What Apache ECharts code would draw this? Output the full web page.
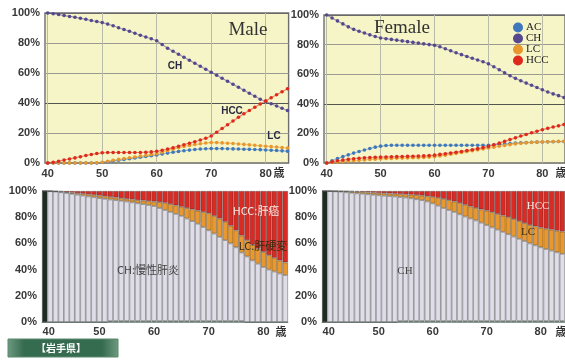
<!DOCTYPE html>
<html><head><meta charset="utf-8">
<script src="https://cdn.jsdelivr.net/npm/echarts@6/dist/echarts.min.js"></script>
<style>html,body{margin:0;padding:0;background:#fff}#c{width:565px;height:364px}</style>
</head><body><div id="c"></div>
<script>
// ---------- DATA ----------
const years = [40,41,42,43,44,45,46,47,48,49,50,51,52,53,54,55,56,57,58,59,60,61,62,63,64,65,66,67,68,69,70,71,72,73,74,75,76,77,78,79,80,81,82,83,84];
const xTickLabels = [40,50,60,70,80];
const yTickLabels = ['0%','20%','40%','60%','80%','100%'];
const legendNames = ['AC','CH','LC','HCC'];

// Top-left: Male, proportion by state (%)
const maleAC  = [0,0,0,0,0,0,0,0,0,0,0.3,0.8,1.3,1.8,2.3,2.8,3.3,3.8,4.3,4.8,5.3,6,6.6,7.2,7.7,8.2,8.6,9,9.3,9.5,9.6,9.6,9.6,9.5,9.4,9.3,9.2,9.1,9,8.9,8.7,8.5,8.3,8.1,7.9];
const maleCH  = [100,99.5,99,98.3,97.7,97.2,96.5,95.8,95,94.3,93.6,92.6,91.5,90.2,89,87.8,86.5,85.2,84,82.8,81.5,79,76.5,74.5,72.5,70.5,68.5,66.5,64.5,62.5,60.5,58.5,56.5,54.5,52.5,50.5,48.5,46.5,44.5,42.5,41,39.5,38,36.5,35];
const maleLC  = [0,0,0,0,0,0,0,0,0,0.2,0.5,1.2,1.8,2.4,3,3.5,4,4.6,5.1,5.6,6.2,7.2,8.2,9.2,10.1,11,11.7,12.3,12.8,13.3,13.7,13.6,13.4,13.2,13,12.7,12.4,12.1,11.8,11.5,11.2,10.9,10.6,10.3,10];
const maleHCC = [0,0.5,1.2,2,2.7,3.4,4.2,5,5.7,6.3,6.8,7,7,7,7,7,7,7,7.2,7.4,7.8,8.5,9.3,10.2,11.2,12.2,13.2,14.2,15.3,16.5,18,20.5,23,25.5,28,30.5,32.8,35,37.2,39.3,41.4,43.5,45.5,47.5,49.5];

// Top-right: Female
const femAC  = [0,1.5,3,4.3,5.5,6.7,7.8,8.8,9.8,10.7,11.4,11.8,12,12,12,12,12,12,12,12,12,12,12,12,12,12,12,12,12,12,12,12.2,12.5,12.8,13.1,13.4,13.6,13.8,14,14.1,14.2,14.3,14.4,14.5,14.5];
const femCH  = [100,98,96,94,92,90.3,89,87.8,86.6,85.5,84.5,84,83.5,83,82.5,82,81.5,81,80.5,80,79.5,78.5,77.2,75.8,74.5,73.2,72,70.8,69.6,68.4,67,65,63,61,59,57.2,55.6,54,52.5,51,49.5,48,46.7,45.5,44.3];
const femLC  = [0,0.3,0.6,0.9,1.2,1.5,1.8,2.1,2.4,2.6,2.8,3,3.1,3.2,3.3,3.4,3.5,3.6,3.8,4,4.3,4.8,5.3,5.9,6.5,7.1,7.7,8.3,8.9,9.5,10.1,10.7,11.3,11.9,12.4,12.9,13.3,13.6,13.9,14.1,14.3,14.4,14.5,14.6,14.7];
const femHCC = [0,0.8,1.5,2,2.5,2.9,3.2,3.5,3.7,3.9,4,4.1,4.2,4.3,4.4,4.5,4.6,4.7,4.8,5,5.3,5.8,6.3,6.8,7.3,7.8,8.4,9,9.7,10.4,11.2,12.3,13.4,14.6,15.8,17,18.2,19.3,20.4,21.5,22.5,23.4,24.3,25.1,26];

// Bottom-left: Male, stacked composition (%)
const maleStAC  = [0,0,0,0,0,0,0,0,0,0,0,0,0.8,0.8,0.8,0.8,0.8,0.8,0.8,0.8,0.8,0.8,0.8,0.8,0.8,0.8,0.8,0.8,0.8,0.8,0.8,0.8,0.8,0.8,0.8,0.8,0.8,0,0,0,0,0,0,0,0];
const maleStCH  = [100,99.8,99.5,99,98.5,97.8,97.2,96.5,95.8,95.2,94.5,94,92.7,92.2,91.7,91.2,90.5,89.8,89.2,88.5,87.7,86.2,84.7,83.2,81.7,80.2,78.2,76.2,74.2,71.7,69.2,66.7,64.2,61.7,59.2,56.2,52.2,50,47,44.5,42,40,38.5,37,35.8];
const maleStLC  = [0,0.2,0.3,0.5,0.5,0.9,1.1,1.4,1.7,1.8,2,2,2,2,2,2,2.2,2.4,2.7,3,3.5,4.5,5.5,6,6.5,7,8,9,10,11.5,13,13.5,14,14,13.5,13,13,12.5,12,11.5,11.5,11,10.5,10,9.7];
const maleStHCC = [0,0,0.2,0.5,1,1.3,1.7,2.1,2.5,3,3.5,4,4.5,5,5.5,6,6.5,7,7.3,7.7,8,8.5,9,10,11,12,13,14,15,16,17,19,21,23.5,26.5,30,34,37.5,41,44,46.5,49,51,53,54.5];

// Bottom-right: Female, stacked composition (%)
const femStAC  = [0,0,0,0,0,0,0,0,0,0,0,0,0,0,0.8,0.8,0.8,0.8,0.8,0.8,0.8,0.8,0.8,0.8,0.8,0.8,0.8,0.8,0.8,0.8,0.8,0.8,0.8,0.8,0.8,0.8,0.8,0.8,0.8,0.8,0.8,0.8,0.8,0.8,0.8];
const femStCH  = [100,99.9,99.7,99.4,99,98.6,98.2,97.9,97.5,97.1,96.7,96.4,96.1,95.8,94.6,94.2,93.6,92.9,92.2,91.2,89.7,88,86.2,84.7,83.2,81.4,79.7,78.2,76.7,75,73.2,71.4,69.7,68,66.2,64.4,62.7,61,59.2,57.7,56.2,54.9,53.7,52.4,51.2];
const femStLC  = [0,0.1,0.3,0.5,0.8,1,1.2,1.3,1.5,1.6,1.8,1.9,2,2.1,2.3,2.5,2.8,3.2,3.5,4,5,6,7,7.5,8,8.6,9,9.2,9.5,10.2,11,11.6,12,12.4,13,13.3,13.5,13.7,14,14.5,15,15.5,16,16.5,17];
const femStHCC = [0,0,0,0.1,0.2,0.4,0.6,0.8,1,1.3,1.5,1.7,1.9,2.1,2.3,2.5,2.8,3.1,3.5,4,4.5,5.2,6,7,8,9.2,10.5,11.8,13,14,15,16.2,17.5,18.8,20,21.5,23,24.5,26,27,28,28.8,29.5,30.3,31];

// ---------- STYLE ----------
const lineColors = {AC:'#3f78bd', CH:'#55488f', LC:'#e8972c', HCC:'#dd2a1c'};
const stColors = {AC:'#4c8b78', CH:'#dedde8', LC:'#e8982e', HCC:'#d92a24'};
const lblStyle = {color:'#383838', fontSize:11, fontWeight:'bold', fontFamily:'Liberation Sans, Arial, sans-serif'};

const chart = echarts.init(document.getElementById('c'), null, {renderer:'canvas'});

function topX(gi){
  return {type:'value', gridIndex:gi, min:39.5, max:84.2,
    axisLine:{show:false}, axisTick:{show:false, customValues:xTickLabels},
    axisLabel:Object.assign({customValues:xTickLabels, margin:5}, lblStyle),
    splitLine:{show:true, lineStyle:{color:'#b9bba6', width:1}}};
}
function topY(gi){
  return {type:'value', gridIndex:gi, min:0, max:100, interval:20,
    axisLine:{show:false}, axisTick:{show:false},
    axisLabel:Object.assign({formatter:(v)=>yTickLabels[v/20], margin:5}, lblStyle),
    splitLine:{show:true, lineStyle:{color:['#8c8c84','#9a9a90','#55554f','#9a9a90','#9a9a90','#6a6a6a'], width:1.2}}};
}
function botX(gi){
  return {type:'category', gridIndex:gi, data:years.map(String),
    axisLine:{show:true, lineStyle:{color:'#8fa39a', width:1}}, axisTick:{show:false},
    axisLabel:Object.assign({interval:(i,v)=>(+v)%10===0, margin:4,
      formatter:(v)=> v==='40' ? '{o|40}' : v,
      rich:{o:Object.assign({padding:[0,0,0,8]}, lblStyle)}}, lblStyle),
    splitLine:{show:false}};
}
function botY(gi){
  return {type:'value', gridIndex:gi, min:0, max:100, interval:20,
    axisLine:{show:false}, axisTick:{show:false},
    axisLabel:Object.assign({formatter:(v)=>yTickLabels[v/20], margin:5}, lblStyle),
    splitLine:{show:false}};
}

const series = [];
function addLines(gi, arrs){
  const order = ['AC','LC','CH','HCC'];
  order.forEach((n, k)=>{
    series.push({type:'line', name:n, xAxisIndex:gi, yAxisIndex:gi,
      data: years.map((y,i)=>[y, arrs[n][i]]),
      symbol:'circle', symbolSize:3.6, showSymbol:true,
      lineStyle:{color:lineColors[n], width:1.2, opacity:0.55},
      itemStyle:{color:lineColors[n]}, z:3+k, animation:false, silent:true});
  });
}
addLines(0, {AC:maleAC, CH:maleCH, LC:maleLC, HCC:maleHCC});
addLines(1, {AC:femAC, CH:femCH, LC:femLC, HCC:femHCC});

function addBars(gi, arrs, stack){
  ['AC','CH','LC','HCC'].forEach((n)=>{
    series.push({type:'bar', name:n, xAxisIndex:gi, yAxisIndex:gi, stack:stack,
      barCategoryGap:'0%',
      data: arrs[n].map((v,i)=> (i===0 && n==='CH') ? {value:v, itemStyle:{color:'#1f2c24'}} : v),
      itemStyle:{color:stColors[n], borderColor:'rgba(50,50,50,0.55)', borderWidth:0.7},
      animation:false, silent:true});
  });
}
addBars(2, {AC:maleStAC, CH:maleStCH, LC:maleStLC, HCC:maleStHCC}, 'm');
addBars(3, {AC:femStAC, CH:femStCH, LC:femStLC, HCC:femStHCC}, 'f');

const serif = 'Liberation Serif, DejaVu Serif, serif';
const sans = 'Liberation Sans, Arial, sans-serif';
function txt(x,y,t,o){
  return Object.assign({type:'text', x:x, y:y, z:50, silent:true,
    style:Object.assign({text:t, fill:'#333', font:'11px '+sans, textAlign:'center', textVerticalAlign:'middle'}, o||{})});
}

const option = {
  backgroundColor:'#ffffff',
  animation:false,
  grid:[
    {left:45, top:13, width:243.6, height:150, show:true, backgroundColor:'#f5f5c8', borderColor:'#6e6e6e', borderWidth:1.4},
    {left:324, top:15, width:243.6, height:148, show:true, backgroundColor:'#f5f5c8', borderColor:'#6e6e6e', borderWidth:1.4},
    {left:42, top:191, width:246, height:131},
    {left:322, top:191, width:246, height:131}
  ],
  xAxis:[topX(0), topX(1), botX(2), botX(3)],
  yAxis:[topY(0), topY(1), botY(2), botY(3)],
  legend:{data:legendNames, orient:'vertical', left:508, top:17, icon:'circle',
    itemWidth:10, itemHeight:10, itemGap:0, selectedMode:false,
    textStyle:{fontFamily:serif, fontSize:11, color:'#222', padding:[0,0,0,-2]}},
  series:series,
  graphic:[
    txt(248,30,'Male',{font:'19px '+serif, fill:'#333'}),
    txt(402,28,'Female',{font:'19px '+serif, fill:'#333'}),
    txt(175,66,'CH',{font:'bold 10px '+sans, fill:'#2a2a40'}),
    txt(232,111,'HCC',{font:'bold 10px '+sans, fill:'#2a2a40'}),
    txt(274,136,'LC',{font:'bold 10px '+sans, fill:'#2a2a40'}),
    txt(279,173,'歳',{font:'bold 11px Noto Sans CJK JP', fill:'#333'}),
    txt(561,173,'歳',{font:'bold 11px Noto Sans CJK JP', fill:'#333'}),
    txt(281,332,'歳',{font:'bold 11px Noto Sans CJK JP', fill:'#333'}),
    txt(561,332,'歳',{font:'bold 11px Noto Sans CJK JP', fill:'#333'}),
    txt(148,270,'CH:慢性肝炎',{font:'11px Noto Sans CJK JP', fill:'#444'}),
    txt(256,211,'HCC:肝癌',{font:'11px Noto Sans CJK JP', fill:'#fbe6e0'}),
    txt(263,246,'LC:肝硬変',{font:'11px Noto Sans CJK JP', fill:'#3a2a10'}),
    txt(405,271,'CH',{font:'11px '+serif, fill:'#444'}),
    txt(538,206,'HCC',{font:'11px '+serif, fill:'#fbe6e0'}),
    txt(528,232,'LC',{font:'11px '+serif, fill:'#3a2a10'}),
    {type:'rect', x:8, y:339, z:40, silent:true, shape:{width:110, height:18},
      style:{fill:new echarts.graphic.LinearGradient(0,0,1,0,[
        {offset:0,color:'#6f9a80'},{offset:0.15,color:'#356b4f'},{offset:0.85,color:'#356b4f'},{offset:1,color:'#6f9a80'}]),
        stroke:'#5b8a6e', lineWidth:1}},
    txt(61,348,'【岩手県】',{font:'bold 10px Noto Sans CJK JP', fill:'#ffffff'})
  ]
};
chart.setOption(option);
</script></body></html>
